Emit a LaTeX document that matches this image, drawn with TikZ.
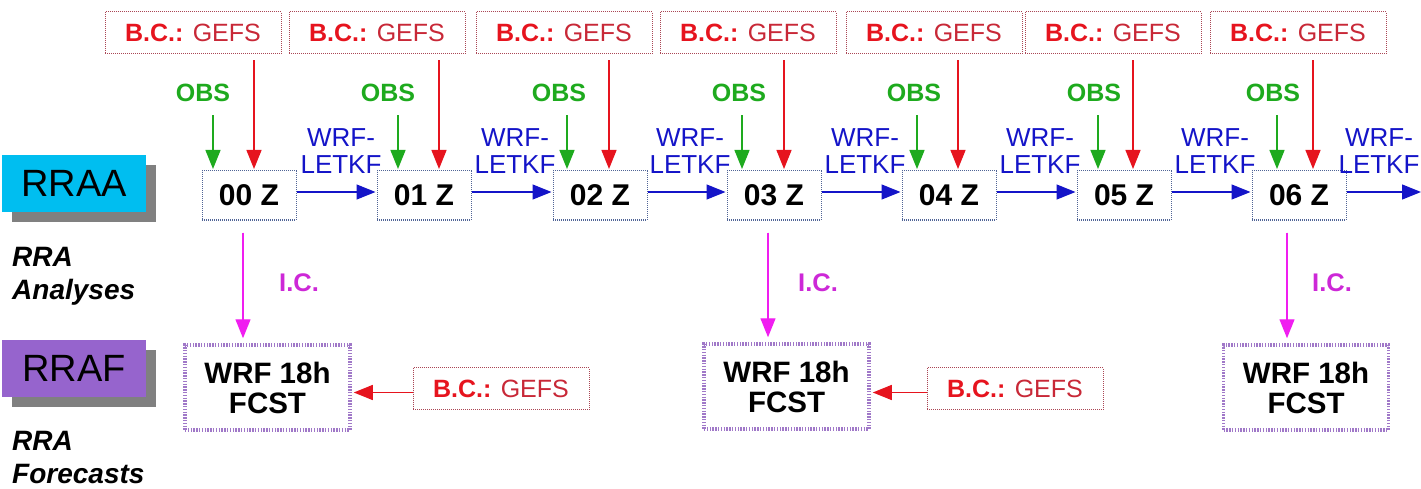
\documentclass[tikz,border=0pt]{standalone}
\usepackage{fontspec}
\setmainfont{Liberation Sans}
\usetikzlibrary{arrows.meta,calc,shadows}
\definecolor{cyanbox}{RGB}{0,190,240}
\definecolor{purplebox}{RGB}{150,100,205}
\definecolor{shadowgray}{RGB}{128,128,128}
\definecolor{bcred}{RGB}{230,20,30}
\definecolor{bctext}{RGB}{215,25,40}
\definecolor{bcgefs}{RGB}{200,40,55}
\definecolor{bcborder}{RGB}{170,70,85}
\definecolor{obsgreen}{RGB}{30,170,30}
\definecolor{letkfblue}{RGB}{20,20,200}
\definecolor{icmag}{RGB}{240,30,240}
\definecolor{ictext}{RGB}{205,40,215}
\definecolor{zborder}{RGB}{80,100,150}
\definecolor{fcstborder}{RGB}{160,120,200}
\begin{document}
\begin{tikzpicture}[x=1pt,y=-1pt,
  bcbox/.style={draw=bcborder, densely dotted, line width=1pt, minimum width=176pt, minimum height=42pt, inner sep=0pt, text=bctext, font=\fontsize{25}{25}\selectfont},
  zbox/.style={draw=zborder, densely dotted, line width=1pt, minimum width=94pt, minimum height=49pt, inner sep=0pt, font=\fontsize{30}{30}\selectfont\bfseries},
  fcbox/.style={draw=fcstborder, line width=3.5pt, dash pattern=on 1.4pt off 1.4pt, minimum width=165pt, minimum height=85pt, inner sep=0pt, align=center, font=\fontsize{29.5}{30}\selectfont\bfseries},
  obslabel/.style={text=obsgreen, inner sep=0pt, font=\fontsize{25}{25}\selectfont\bfseries},
  letkflabel/.style={text=letkfblue, inner sep=0pt, align=center, font=\fontsize{26}{27}\selectfont},
  iclabel/.style={text=ictext, inner sep=0pt, font=\fontsize{25.5}{25.5}\selectfont\bfseries},
  sidelabel/.style={inner sep=0pt, align=left, anchor=west, font=\fontsize{28}{33}\selectfont\bfseries\itshape},
  tagbox/.style={minimum width=144pt, minimum height=57pt, inner sep=0pt, font=\fontsize{38}{38}\selectfont,
    drop shadow={shadow xshift=10pt, shadow yshift=-10pt, fill=shadowgray, opacity=1}},
  arr/.style={line width=1.3pt, -{Triangle[length=19pt,width=15pt]}},
  redarrow/.style={arr, draw=bcred, fill=bcred},
  greenarrow/.style={arr, draw=obsgreen, fill=obsgreen},
  bluearrow/.style={arr, draw=letkfblue, fill=letkfblue},
  icarrow/.style={arr, draw=icmag, fill=icmag}
]
\useasboundingbox (0,0) rectangle (1421,489);

% side tags
\node[tagbox, fill=cyanbox] (rraa) at (74,183.5) {RRAA};
\node[tagbox, fill=purplebox] (rraf) at (74,368.5) {RRAF};
\node[sidelabel] (rralab) at (12,276) {RRA\\Analyses};
\node[sidelabel] (rrflab) at (12,458) {RRA\\Forecasts};

% top B.C. boxes, OBS labels, Z boxes
\foreach \i/\bx/\ox/\zx in {0/193/203/249, 1/377/388/424, 2/564/559/600, 3/748/739/774, 4/934/914/949, 5/1113/1094/1124, 6/1298/1273/1299}{
  \node[bcbox] (bc\i) at (\bx,33) {\textbf{\color{bcred}B.C.:} \color{bcgefs}GEFS};
  \node[obslabel] (obs\i) at (\ox,93) {OBS};
  \node[zbox] (z\i) at (\zx,195.5) {0\i\ Z};
}

% red and green arrows into Z boxes
\foreach \i/\rx/\gx in {0/254/213, 1/439/398, 2/609/567, 3/784/742, 4/958/917, 5/1133/1098, 6/1313/1277}{
  \draw[redarrow, shorten <=6pt, shorten >=1.5pt] (bc\i.south -| \rx,0) -- (z\i.north -| \rx,0);
  \draw[greenarrow, shorten <=13pt, shorten >=1.5pt] (obs\i.south -| \gx,0) -- (z\i.north -| \gx,0);
}

% WRF-LETKF labels and blue arrows
\foreach \i/\lx in {0/341, 1/515, 2/690, 3/865, 4/1040, 5/1215, 6/1379}{
  \node[letkflabel] (lk\i) at (\lx,151.5) {WRF-\\LETKF};
}
\foreach \i/\j in {0/1, 1/2, 2/3, 3/4, 4/5, 5/6}{
  \draw[bluearrow, shorten >=1pt] ([yshift=3.5pt]z\i.east) -- ([yshift=3.5pt]z\j.west);
}
\coordinate (rightend) at (1421,192);
\draw[bluearrow] ([yshift=3.5pt]z6.east) -- (rightend);

% forecast boxes
\node[fcbox] (fc0) at (267.5,387.5) {WRF 18h\\FCST};
\node[fcbox] (fc1) at (786.5,386.5) {WRF 18h\\FCST};
\node[fcbox] (fc2) at (1306,387.5) {WRF 18h\\FCST};

% I.C. arrows and labels
\node[iclabel] (ic0) at (299,283) {I.C.};
\node[iclabel] (ic1) at (818,283) {I.C.};
\node[iclabel] (ic2) at (1332,283) {I.C.};
\draw[icarrow, shorten <=12pt, shorten >=5pt] (z0.south -| 243,0) -- (fc0.north -| 243,0);
\draw[icarrow, shorten <=12pt, shorten >=5pt] (z3.south -| 768,0) -- (fc1.north -| 768,0);
\draw[icarrow, shorten <=12pt, shorten >=5pt] (z6.south -| 1287,0) -- (fc2.north -| 1287,0);

% bottom B.C. boxes
\node[bcbox] (bcb0) at (501,388.5) {\textbf{\color{bcred}B.C.:} \color{bcgefs}GEFS};
\node[bcbox] (bcb1) at (1015,388.5) {\textbf{\color{bcred}B.C.:} \color{bcgefs}GEFS};
\draw[redarrow, shorten >=2pt] ([yshift=-4pt]bcb0.west) -- ([yshift=-4pt]bcb0.west -| fc0.east);
\draw[redarrow, shorten >=2pt] ([yshift=-4pt]bcb1.west) -- ([yshift=-4pt]bcb1.west -| fc1.east);
\end{tikzpicture}
\end{document}
